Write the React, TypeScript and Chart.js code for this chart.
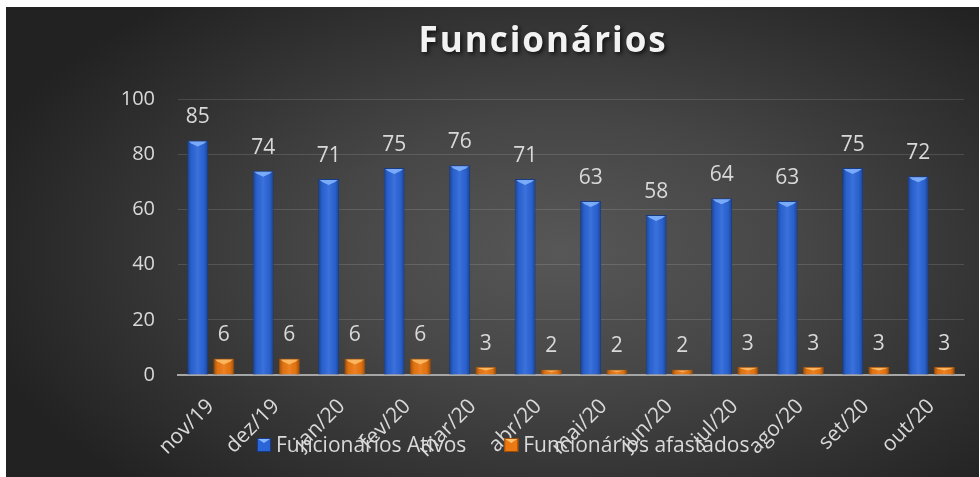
import React, { useEffect, useRef } from 'react';
import { Chart, registerables } from 'chart.js';

Chart.register(...registerables);

const chartTitle = 'Funcionários';
const categories = ['nov/19', 'dez/19', 'jan/20', 'fev/20', 'mar/20', 'abr/20', 'mai/20', 'jun/20', 'jul/20', 'ago/20', 'set/20', 'out/20'];
const seriesNames = ['Funcionários Ativos', 'Funcionários afastados'];
const ativos = [85, 74, 71, 75, 76, 71, 63, 58, 64, 63, 75, 72];
const afastados = [6, 6, 6, 6, 3, 2, 2, 2, 3, 3, 3, 3];
const yMin = 0;
const yMax = 100;
const yStep = 20;

const FONT = "'Open Sans', 'Noto Sans', sans-serif";
const TEXT = '#d9d9d9';
const fills = ['#2b66d9', '#ec7812'];
const borders = ['#183b86', '#9c4c07'];
const tops = ['#86b6ff', '#ffbf6a'];

const barStylePlugin = {
  id: 'barStyle',
  afterDatasetsDraw(chart: any) {
    const ctx = chart.ctx;
    chart.data.datasets.forEach((ds: any, di: number) => {
      const meta = chart.getDatasetMeta(di);
      meta.data.forEach((el: any) => {
        const p = el.getProps(['x', 'y', 'base', 'width'], true);
        const l = p.x - p.width / 2;
        const r = p.x + p.width / 2;
        const t = Math.min(p.y, p.base);
        const b = Math.max(p.y, p.base);
        ctx.save();
        const g = ctx.createLinearGradient(l, 0, r, 0);
        g.addColorStop(0, 'rgba(0,0,0,0.35)');
        g.addColorStop(0.2, 'rgba(0,0,0,0.05)');
        g.addColorStop(0.5, 'rgba(255,255,255,0.08)');
        g.addColorStop(0.8, 'rgba(0,0,0,0.05)');
        g.addColorStop(1, 'rgba(0,0,0,0.35)');
        ctx.fillStyle = g;
        ctx.fillRect(l + 1, t + 1, r - l - 2, b - t - 1);
        const d = Math.min(6, (b - t) / 2);
        ctx.beginPath();
        ctx.moveTo(l + 1.5, t + 1);
        ctx.lineTo(r - 1.5, t + 1);
        ctx.lineTo(r - 4, t + d * 0.5);
        ctx.lineTo(p.x, t + d);
        ctx.lineTo(l + 4, t + d * 0.5);
        ctx.closePath();
        ctx.fillStyle = tops[di];
        ctx.globalAlpha = 0.85;
        ctx.fill();
        ctx.restore();
      });
    });
  },
};

const decorPlugin = {
  id: 'decor',
  afterDraw(chart: any) {
    const ctx = chart.ctx;
    const W = chart.width;
    // data labels
    ctx.save();
    ctx.font = `21px ${FONT}`;
    ctx.fillStyle = TEXT;
    ctx.textAlign = 'center';
    ctx.textBaseline = 'alphabetic';
    chart.data.datasets.forEach((ds: any, di: number) => {
      const meta = chart.getDatasetMeta(di);
      meta.data.forEach((el: any, i: number) => {
        const p = el.getProps(['x', 'y'], true);
        ctx.fillText(String(ds.data[i]), p.x, p.y - 17);
      });
    });
    ctx.restore();

    // title
    ctx.save();
    ctx.font = `bold 35px ${FONT}`;
    (ctx as any).letterSpacing = '2px';
    ctx.fillStyle = '#f2f2f2';
    ctx.textAlign = 'center';
    ctx.textBaseline = 'alphabetic';
    ctx.shadowColor = 'rgba(0,0,0,0.7)';
    ctx.shadowBlur = 4;
    ctx.shadowOffsetX = 2;
    ctx.shadowOffsetY = 2;
    ctx.fillText(chartTitle, W * 0.552, 45);
    ctx.restore();

    // legend
    ctx.save();
    ctx.font = `21px ${FONT}`;
    const box = 14;
    const gapBoxText = 5;
    const gapItems = 38;
    const widths = seriesNames.map((n) => ctx.measureText(n).width);
    const total = widths.reduce((a, w) => a + box + gapBoxText + w, 0) + gapItems * (seriesNames.length - 1);
    let x = W * 0.511 - total / 2;
    const cy = 438;
    seriesNames.forEach((n, i) => {
      ctx.fillStyle = fills[i];
      ctx.fillRect(x, cy - box / 2, box, box);
      ctx.strokeStyle = borders[i];
      ctx.lineWidth = 1;
      ctx.strokeRect(x + 0.5, cy - box / 2 + 0.5, box - 1, box - 1);
      ctx.fillStyle = tops[i];
      ctx.beginPath();
      ctx.moveTo(x + 1, cy - box / 2 + 1);
      ctx.lineTo(x + box - 1, cy - box / 2 + 1);
      ctx.lineTo(x + box / 2, cy - box / 2 + 5);
      ctx.closePath();
      ctx.fill();
      ctx.fillStyle = TEXT;
      ctx.textAlign = 'left';
      ctx.textBaseline = 'middle';
      ctx.fillText(n, x + box + gapBoxText, cy + 1);
      x += box + gapBoxText + widths[i] + gapItems;
    });
    ctx.restore();
  },
};

export default function App() {
  const ref = useRef<HTMLCanvasElement>(null);
  useEffect(() => {
    const chart = new Chart(ref.current as HTMLCanvasElement, {
      type: 'bar',
      data: {
        labels: categories,
        datasets: [
          {
            label: seriesNames[0],
            data: ativos,
            backgroundColor: fills[0],
            borderColor: borders[0],
            borderWidth: 1,
            categoryPercentage: 0.8,
            barPercentage: 0.8,
          },
          {
            label: seriesNames[1],
            data: afastados,
            backgroundColor: fills[1],
            borderColor: borders[1],
            borderWidth: 1,
            categoryPercentage: 0.8,
            barPercentage: 0.8,
          },
        ],
      },
      options: {
        animation: false,
        responsive: true,
        maintainAspectRatio: false,
        layout: { padding: { top: 92, right: 15, left: 0, bottom: 0 } },
        plugins: {
          legend: { display: false },
          title: { display: false },
          tooltip: { enabled: false },
        },
        scales: {
          x: {
            afterFit: (s: any) => {
              s.height = 102;
            },
            grid: { display: false },
            border: { display: true, color: '#a6a6a6', width: 2 },
            ticks: {
              color: TEXT,
              font: { family: FONT, size: 21 },
              maxRotation: 45,
              minRotation: 45,
              padding: 11,
              autoSkip: false,
            },
          },
          y: {
            min: yMin,
            max: yMax,
            afterFit: (s: any) => {
              s.width = 172;
            },
            border: { display: false },
            grid: { color: 'rgba(255,255,255,0.13)', lineWidth: 1, drawTicks: false },
            ticks: {
              stepSize: yStep,
              color: TEXT,
              font: { family: FONT, size: 20 },
              padding: 23,
            },
          },
        },
      },
      plugins: [barStylePlugin, decorPlugin],
    });
    return () => chart.destroy();
  }, []);

  return (
    <div
      style={{
        position: 'absolute',
        left: 6,
        top: 7,
        width: 973,
        height: 470,
        background: 'radial-gradient(ellipse 62% 70% at 57% 52%, #575757 0%, #464646 40%, #2e2e2e 80%, #222222 100%)',
      }}
    >
      <canvas ref={ref} />
    </div>
  );
}
